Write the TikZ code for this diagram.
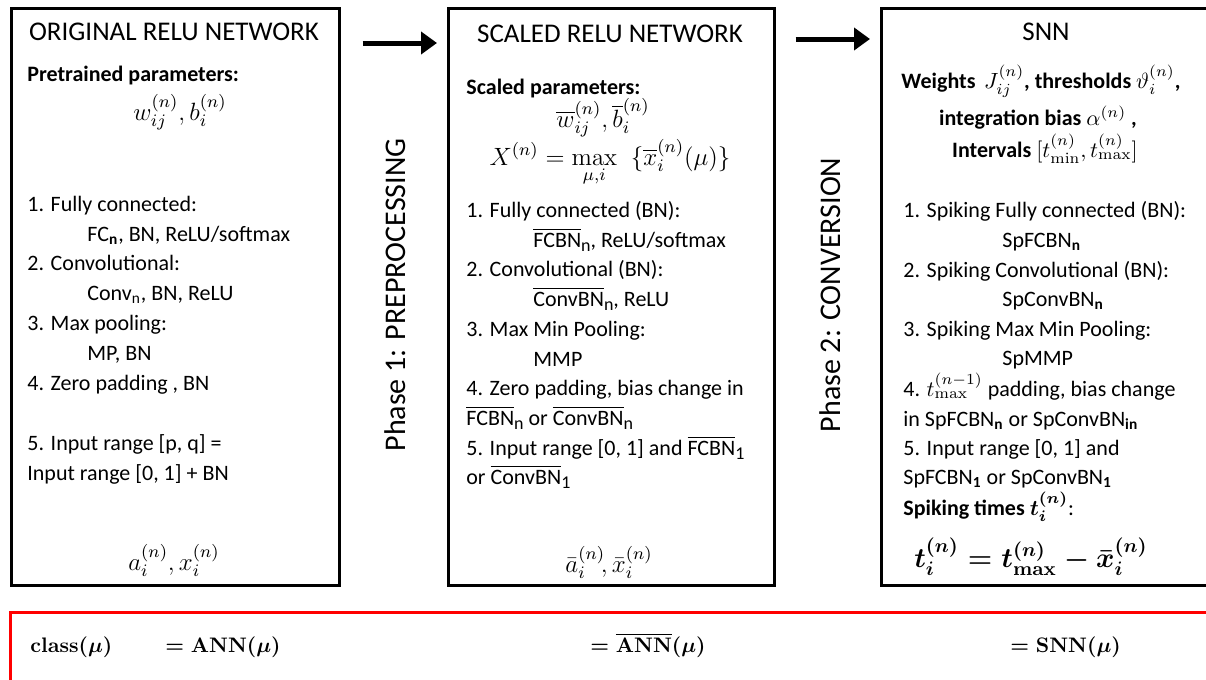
\RequirePackage{fix-cm}
\documentclass[tikz,border=0pt]{standalone}
\usepackage{amsmath}
\usepackage[no-math]{fontspec}
\setmainfont{Carlito}
\usetikzlibrary{arrows.meta}

% small bold subscript used in layer names
\newcommand{\lsub}[1]{\textsubscript{\bfseries #1}}
% overlined layer name with a lowered subscript
\newcommand{\olay}[2]{$\overline{\mbox{#1}}$\raisebox{-0.45ex}{\fontsize{9}{10}\selectfont #2}}
% bold formula
\newcommand{\bmath}[1]{\mbox{\boldmath$#1$}}

\tikzset{
  panel/.style={draw=black, line width=1.3pt, rectangle, inner sep=0pt, anchor=north west},
  ttl/.style={font=\fontsize{13.5}{16}\selectfont, anchor=base, inner sep=0pt},
  txt/.style={font=\fontsize{11}{13}\selectfont, anchor=base west, inner sep=0pt},
  hd/.style={txt, font=\fontsize{11}{13}\selectfont\bfseries},
  hdc/.style={hd, anchor=base},
  eq/.style={font=\fontsize{12.5}{15}\selectfont, anchor=base, inner sep=0pt},
  eqbig/.style={font=\fontsize{14}{17}\selectfont, anchor=base, inner sep=0pt},
  clsf/.style={font=\fontsize{10.5}{13}\selectfont, anchor=base west, inner sep=0pt},
  phase/.style={font=\fontsize{15}{18}\selectfont, rotate=90, anchor=base, inner sep=0pt},
  flow/.style={line width=2.5pt, -{Triangle[length=8pt,width=11pt]}},
}

\begin{document}
\begin{tikzpicture}[x=0.5pt, y=-0.5pt]
\useasboundingbox (0,0) rectangle (1206,680);
\clip (0,0) rectangle (1206,680);

% ---- three panels ----
\node[panel, minimum width=164pt, minimum height=288.5pt] (orig) at (10,7) {};
\node[panel, minimum width=163pt, minimum height=288.5pt] (scaled) at (447,7) {};
\node[panel, minimum width=166pt, minimum height=288.5pt] (snn) at (880,7) {};

% ---- classification box ----
\node[panel, draw=red, line width=1.5pt, minimum width=603pt, minimum height=40pt] (cls) at (9,611) {};

% ---- arrows between panels ----
\draw[flow] ([xshift=11pt,yshift=-18pt]orig.north east) -- ([xshift=-5pt,yshift=-18pt]scaled.north west);
\draw[flow] ([xshift=10pt,yshift=-16pt]scaled.north east) -- ([xshift=-5pt,yshift=-16pt]snn.north west);

% ---- phase labels ----
\node[phase] (ph1) at (405,295) {Phase 1: PREPROCESSING};
\node[phase] (ph2) at (840,295) {Phase 2: CONVERSION};

% ---- original ReLU network ----
\node[ttl] (o-t) at (174,40) {ORIGINAL RELU NETWORK};
\node[hd] (o-h) at (27,82) {Pretrained parameters:};
\node[eq] (o-p) at (180,120) {$w_{ij}^{(n)}, b_i^{(n)}$};
\node[txt] (o-1) at (27,211) {1. Fully connected:};
\node[txt] (o-1a) at (87,241) {FC\lsub{n}, BN, ReLU/softmax};
\node[txt] (o-2) at (27,270) {2. Convolutional:};
\node[txt] (o-2a) at (87,300) {Conv\textsubscript{n}, BN, ReLU};
\node[txt] (o-3) at (27,330) {3. Max pooling:};
\node[txt] (o-3a) at (87,360) {MP, BN};
\node[txt] (o-4) at (27,390) {4. Zero padding , BN};
\node[txt] (o-5) at (27,450) {5. Input range [p, q] =};
\node[txt] (o-5a) at (27,480) {Input range [0, 1] + BN};
\node[eq] (o-o) at (174,570) {$a_i^{(n)}, x_i^{(n)}$};

% ---- scaled ReLU network ----
\node[ttl] (s-t) at (610,42) {SCALED RELU NETWORK};
\node[hd] (s-h) at (466,94) {Scaled parameters:};
\node[eq] (s-p) at (603,127) {$\overline{w}_{ij}^{(n)}, \overline{b}_i^{(n)}$};
\node[eq] (s-x) at (610,165) {$X^{(n)} = \max\limits_{\mu,i}\;\;\{\overline{x}_i^{(n)}(\mu)\}$};
\node[txt] (s-1) at (466,217) {1. Fully connected (BN):};
\node[txt] (s-1a) at (533,247) {\olay{FCBN}{n}, ReLU/softmax};
\node[txt] (s-2) at (466,276) {2. Convolutional (BN):};
\node[txt] (s-2a) at (533,306) {\olay{ConvBN}{n}, ReLU};
\node[txt] (s-3) at (466,336) {3. Max Min Pooling:};
\node[txt] (s-3a) at (533,366) {MMP};
\node[txt] (s-4) at (466,395) {4. Zero padding, bias change in};
\node[txt] (s-4a) at (466,425) {\olay{FCBN}{n} or \olay{ConvBN}{n}};
\node[txt] (s-5) at (466,455) {5. Input range [0, 1] and \olay{FCBN}{1}};
\node[txt] (s-5a) at (466,484) {or \olay{ConvBN}{1}};
\node[eq] (s-o) at (609,572) {$\bar{a}_i^{(n)}\!, \bar{x}_i^{(n)}$};

% ---- spiking network ----
\node[ttl] (n-t) at (1046,40) {SNN};
\node[hdc] (n-h1) at (1041,88) {Weights \,$J_{ij}^{(n)}$, thresholds $\vartheta_i^{(n)}$,};
\node[hdc] (n-h2) at (1038,125) {integration bias $\alpha^{(n)}$ ,};
\node[hdc] (n-h3) at (1045,157) {Intervals $[t_{\min}^{(n)}, t_{\max}^{(n)}]$};
\node[txt] (n-1) at (903,217) {1. Spiking Fully connected (BN):};
\node[txt] (n-1a) at (1002,247) {SpFCBN\lsub{n}};
\node[txt] (n-2) at (903,277) {2. Spiking Convolutional (BN):};
\node[txt] (n-2a) at (1002,306) {SpConvBN\lsub{n}};
\node[txt] (n-3) at (903,336) {3. Spiking Max Min Pooling:};
\node[txt] (n-3a) at (1002,365) {SpMMP};
\node[txt] (n-4) at (903,396) {4. $t_{\max}^{(n-1)}$ padding, bias change};
\node[txt] (n-4a) at (903,426) {in SpFCBN\lsub{n} or SpConvBN\lsub{in}};
\node[txt] (n-5) at (903,455) {5. Input range [0, 1] and};
\node[txt] (n-5a) at (903,484) {SpFCBN\lsub{1} or SpConvBN\lsub{1}};
\node[hd] (n-h4) at (903,515) {Spiking times \bmath{t_i^{(n)}}\mdseries:};
\node[eqbig] (n-o) at (1031,567) {\bmath{t_i^{(n)} = t_{\max}^{(n)} - \bar{x}_i^{(n)}}};

% ---- classification identities ----
\node[clsf] (c-0) at (30,652) {\bmath{\mathrm{class}(\mu)}};
\node[clsf] (c-1) at (165,652) {\bmath{= \mathrm{ANN}(\mu)}};
\node[clsf] (c-2) at (590,652) {\bmath{= \overline{\mathrm{ANN}}(\mu)}};
\node[clsf] (c-3) at (1010,652) {\bmath{= \mathrm{SNN}(\mu)}};
\end{tikzpicture}
\end{document}
